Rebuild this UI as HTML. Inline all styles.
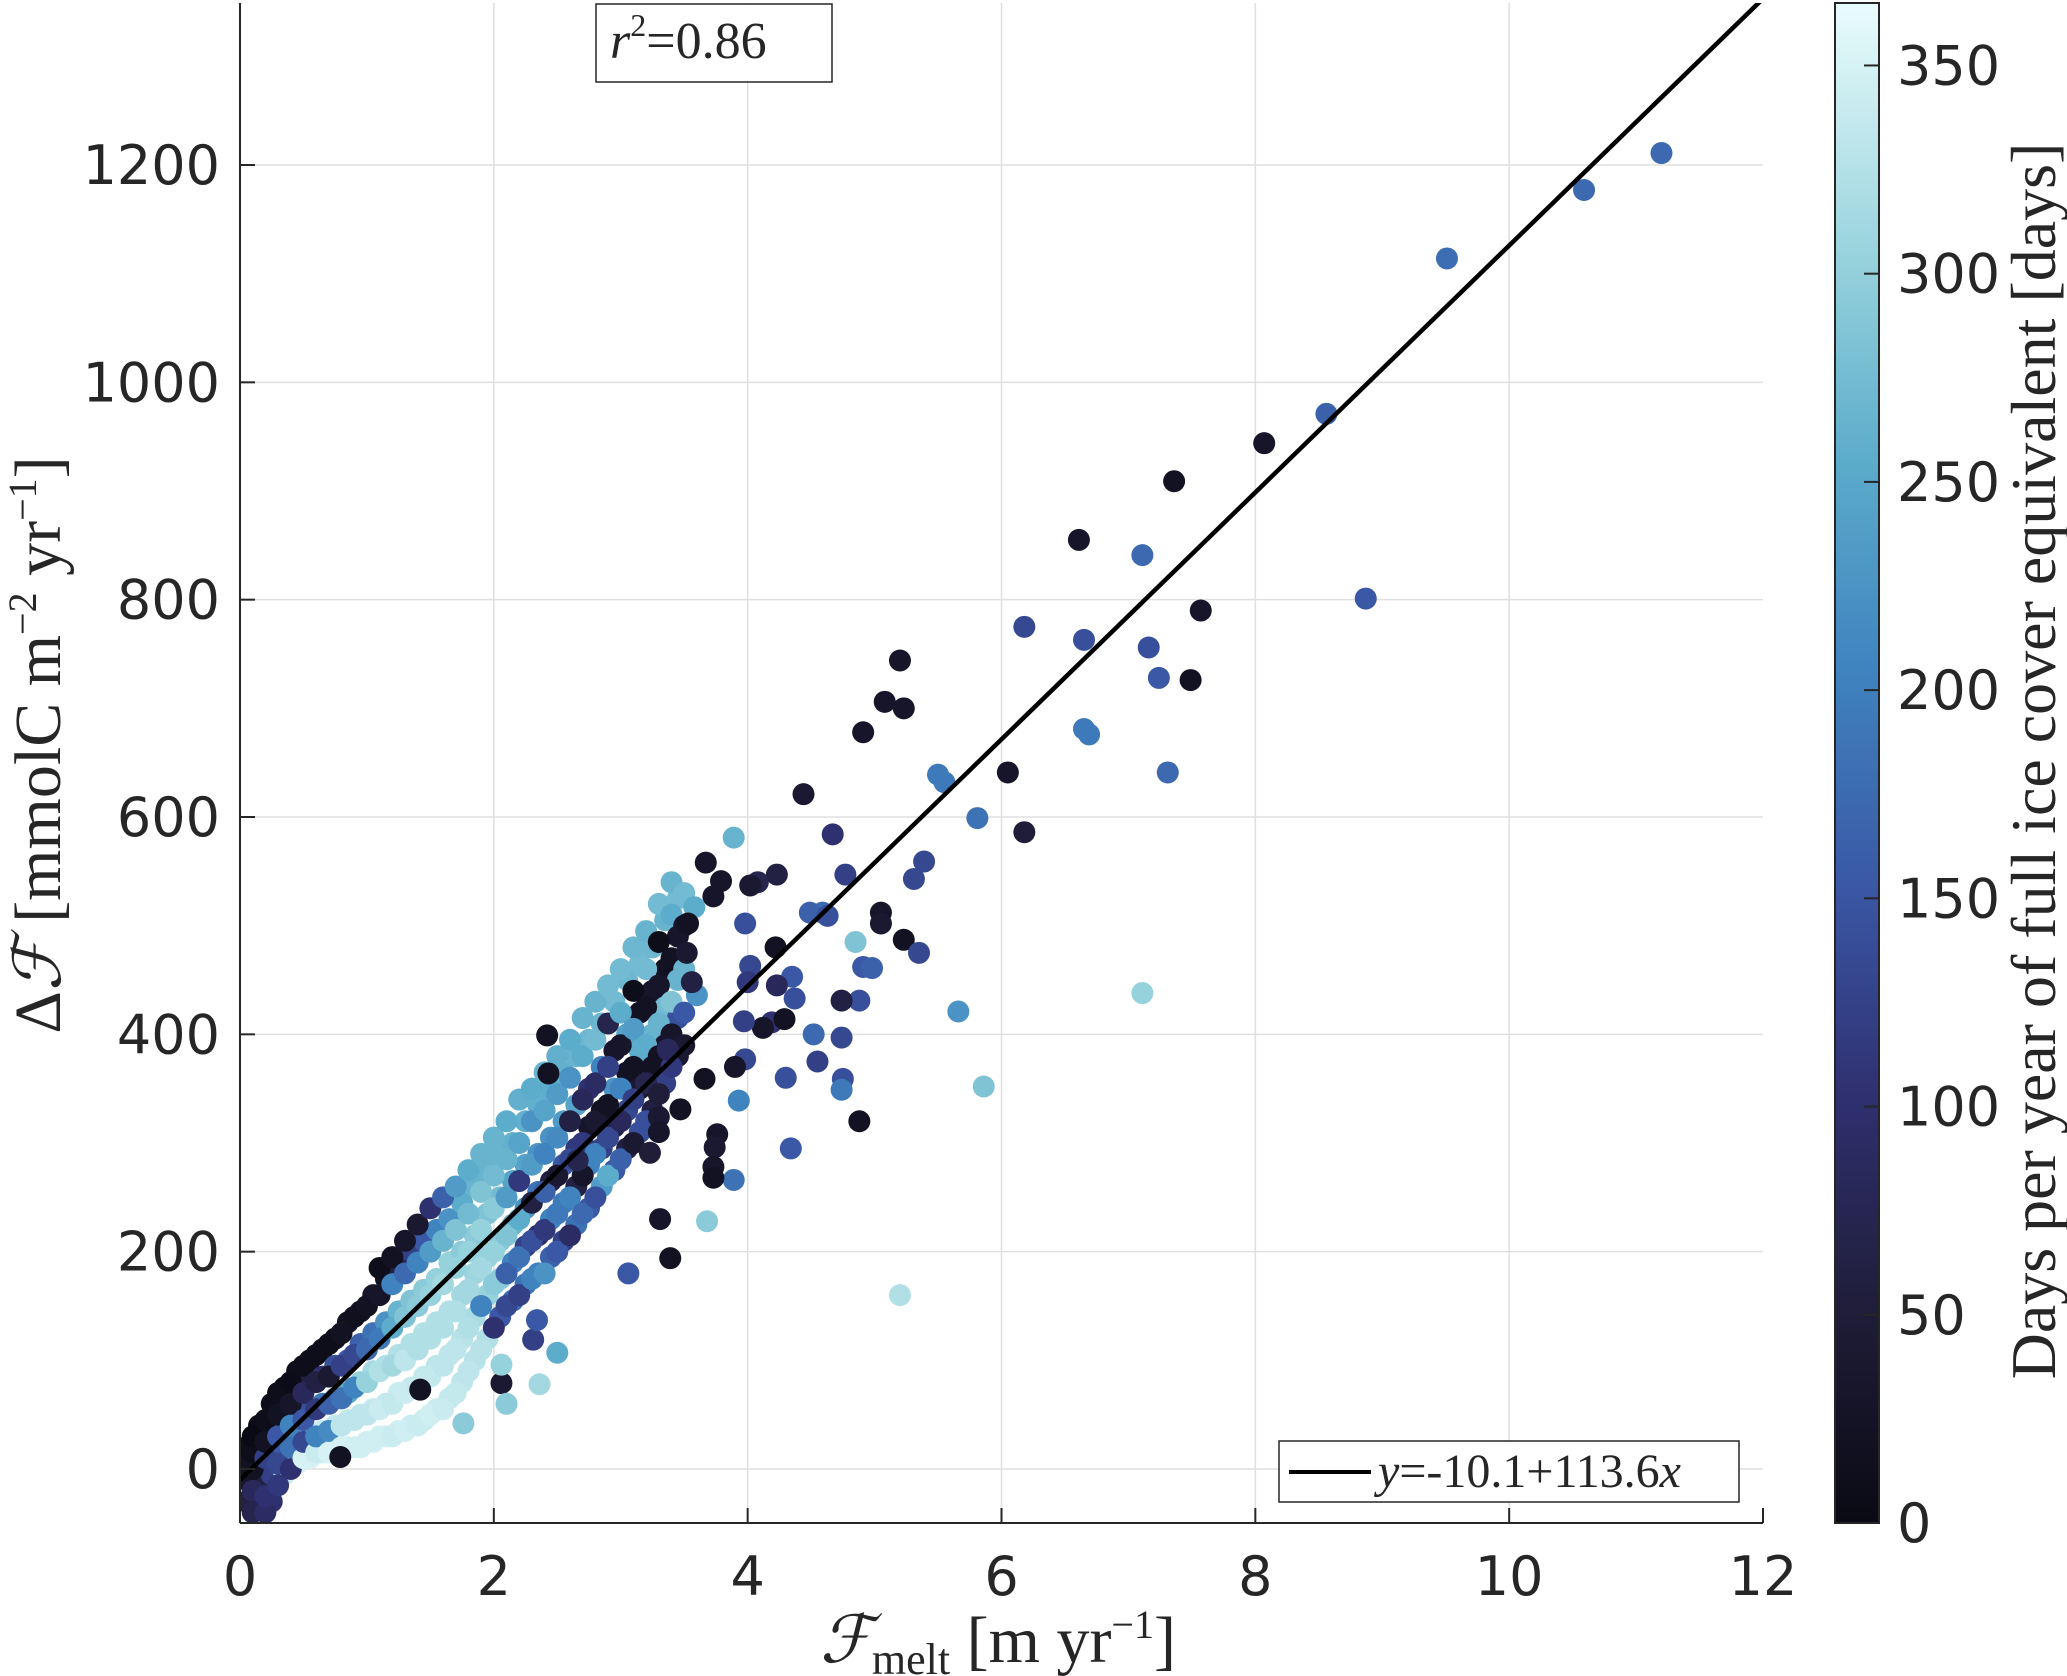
<!DOCTYPE html>
<html><head><meta charset="utf-8">
<style>
html,body{margin:0;padding:0;background:#fff;}
svg{display:block;}
.tick{font-family:"DejaVu Sans","Liberation Sans",sans-serif;font-size:54px;fill:#262626;}
.serif{font-family:"Liberation Serif","DejaVu Serif",serif;fill:#262626;}
</style></head>
<body>
<svg id="chart" width="2067" height="1676" viewBox="0 0 2067 1676" xmlns="http://www.w3.org/2000/svg">
<defs>
<linearGradient id="cbgrad" x1="0" y1="1" x2="0" y2="0">
<stop offset="0" stop-color="#0a0a14"/>
<stop offset="0.14" stop-color="#1f1d38"/>
<stop offset="0.28" stop-color="#2f3070"/>
<stop offset="0.42" stop-color="#3a58a6"/>
<stop offset="0.56" stop-color="#3f83bf"/>
<stop offset="0.7" stop-color="#5caccb"/>
<stop offset="0.83" stop-color="#96d2dc"/>
<stop offset="1" stop-color="#eafcfc"/>
</linearGradient>
<clipPath id="plotclip"><rect x="240" y="3" width="1523" height="1520"/></clipPath>
</defs>
<g id="grid"></g>
<g id="points" clip-path="url(#plotclip)"></g>
<g id="fit" clip-path="url(#plotclip)"></g>
<g id="axes"></g>
<g id="cbar"></g>
<g>
<rect x="596" y="4" width="236" height="78" fill="#fff" stroke="#262626" stroke-width="1.5"/>
<text class="serif" x="610" y="58" font-size="52"><tspan font-style="italic">r</tspan><tspan font-size="32" dy="-22">2</tspan><tspan dy="22">=0.86</tspan></text>
</g>
<g>
<rect x="1279" y="1441" width="460" height="61" fill="#fff" stroke="#262626" stroke-width="1.5"/>
<line x1="1289" y1="1472" x2="1371" y2="1472" stroke="#000" stroke-width="4"/>
<text class="serif" x="1378" y="1487" font-size="48"><tspan font-style="italic">y</tspan>=-10.1+113.6<tspan font-style="italic">x</tspan></text>
</g>
<text class="serif" font-size="66" transform="translate(60,745) rotate(-90)" text-anchor="middle">Δ<tspan font-style="italic">ℱ</tspan> [mmolC m<tspan font-size="40" dy="-24">−2</tspan><tspan dy="24"> yr</tspan><tspan font-size="40" dy="-24">−1</tspan><tspan dy="24">]</tspan></text>
<text class="serif" font-size="66" x="998" y="1662" text-anchor="middle"><tspan font-style="italic">ℱ</tspan><tspan font-size="44" dy="12">melt</tspan><tspan dy="-12"> [m yr</tspan><tspan font-size="40" dy="-24">−1</tspan><tspan dy="24">]</tspan></text>
<text class="serif" font-size="64" transform="translate(2055,761) rotate(-90)" text-anchor="middle">Days per year of full ice cover equivalent [days]</text>
</svg>
<script>
const xTicks = [0,2,4,6,8,10,12];
const yTicks = [0,200,400,600,800,1000,1200];
const cTicks = [0,50,100,150,200,250,300,350];
const fitIntercept = -10.1;
const fitSlope = 113.6;
const meltX = [
0.15,0.15,0.15,0.15,0.15, 0.25,0.25,0.25,0.25,0.25, 0.35,0.35,0.35,0.35,0.35, 0.45,0.45,0.45,0.45,0.45,
0.55,0.55,0.55,0.55,0.55, 0.65,0.65,0.65,0.65,0.65, 0.75,0.75,0.75,0.75,0.75, 0.85,0.85,0.85,0.85,0.85,
0.95,0.95,0.95,0.95,0.95, 1.05,1.05,1.05,1.05,1.05, 1.15,1.15,1.15,1.15,1.15, 1.25,1.25,1.25,1.25,1.25,
1.35,1.35,1.35,1.35,1.35, 1.45,1.45,1.45,1.45,1.45, 1.55,1.55,1.55,1.55,1.55, 1.65,1.65,1.65,1.65,1.65,
1.75,1.75,1.75,1.75,1.75, 1.85,1.85,1.85,1.85,1.85, 1.95,1.95,1.95,1.95,1.95, 2.05,2.05,2.05,2.05,2.05,
2.15,2.15,2.15,2.15,2.15, 2.25,2.25,2.25,2.25,2.25, 2.35,2.35,2.35,2.35,2.35, 2.45,2.45,2.45,2.45,2.45,
2.55,2.55,2.55,2.55,2.55, 2.65,2.65,2.65,2.65,2.65, 2.75,2.75,2.75,2.75,2.75, 2.85,2.85,2.85,2.85,2.85,
2.95,2.95,2.95,2.95,2.95, 3.05,3.05,3.05,3.05,3.05, 3.15,3.15,3.15,3.15,3.15, 3.25,3.25,3.25,3.25,3.25,
3.35,3.35,3.35,3.35,3.35, 3.45,3.45,3.45,3.45,3.45,
0.05,0.05,0.05,0.05,
0.1,0.1,0.1,0.1,0.1,
0.2,0.2,0.2,0.2,0.2,
0.3,0.3,0.3,0.3,0.3,
0.4,0.4,0.4,0.4,0.4,
0.5,0.5,0.5,0.5,0.5,
0.6,0.6,0.6,0.6,0.6,
0.7,0.7,0.7,0.7,0.7,
0.8,0.8,0.8,0.8,0.8,
0.9,0.9,0.9,0.9,0.9,
1.0,1.0,1.0,1.0,1.0,
1.1,1.1,1.1,1.1,1.1,1.1,
1.2,1.2,1.2,1.2,1.2,1.2,
1.3,1.3,1.3,1.3,1.3,1.3,
1.4,1.4,1.4,1.4,1.4,1.4,
1.5,1.5,1.5,1.5,1.5,1.5,
1.6,1.6,1.6,1.6,1.6,1.6,
1.7,1.7,1.7,1.7,1.7,1.7,
1.8,1.8,1.8,1.8,1.8,1.8,
1.9,1.9,1.9,1.9,1.9,1.9,
2.0,2.0,2.0,2.0,2.0,2.0,
2.1,2.1,2.1,2.1,2.1,2.1,
2.2,2.2,2.2,2.2,2.2,2.2,
2.3,2.3,2.3,2.3,2.3,2.3,
2.4,2.4,2.4,2.4,2.4,2.4,
2.5,2.5,2.5,2.5,2.5,2.5,
2.6,2.6,2.6,2.6,2.6,2.6,
2.7,2.7,2.7,2.7,2.7,2.7,
2.8,2.8,2.8,2.8,2.8,2.8,
2.9,2.9,2.9,2.9,2.9,2.9,
3.0,3.0,3.0,3.0,3.0,3.0,
3.1,3.1,3.1,3.1,3.1,3.1,
3.2,3.2,3.2,3.2,3.2,3.2,
3.3,3.3,3.3,3.3,3.3,3.3,
3.4,3.4,3.4,3.4,3.4,3.4,
3.5,3.5,3.5,3.5,3.5,
11.2,10.59,9.51,8.56,8.87,8.07,7.36,7.57,7.49,7.11,7.16,7.24,7.31,7.11,6.61,6.65,6.18,6.65,6.69,6.05,6.18,5.81,5.5,5.55,5.66,5.86,5.2,5.2,5.23,5.08,4.91,
4.44,4.67,4.77,5.23,5.05,5.05,5.35,5.31,5.39,4.91,4.98,4.85,4.88,4.88,4.59,4.49,4.63,4.74,4.74,4.75,4.74,4.55,4.52,4.37,4.35,4.34,4.3,
4.22,4.23,4.08,4.02,4.23,4.19,4.29,4.12,4.02,3.98,4.0,3.97,3.98,3.9,3.93,3.89,3.89,3.79,3.67,3.73,3.76,3.74,3.73,3.73,3.66,3.68,3.6,3.58,3.53,3.52,3.56,
3.47,3.39,3.37,3.31,3.3,3.3,3.23,3.06,2.66,2.42,2.43,2.5,2.06,2.1,2.06,1.42,0.79,1.76,2.36,2.31,2.34
];
const deltaF = [
-35,-10,10,25,40, -30,-5,20,40,60, -5,15,35,55,75, 5,25,45,70,90,
10,30,55,80,100, 15,35,60,85,110, 15,40,65,95,120, 20,45,70,100,135,
20,50,80,115,145, 25,55,90,125,160, 30,60,95,135,175, 35,70,105,145,185,
40,75,115,155,200, 45,85,125,165,210, 55,95,135,175,220, 65,105,145,190,230,
80,120,160,200,245, 100,140,180,215,260, 120,160,195,235,275, 140,175,210,250,290,
155,190,225,265,300, 170,205,240,280,320, 180,215,255,290,335, 195,230,265,305,350,
210,245,280,320,365, 225,260,295,335,380, 240,280,315,350,395, 260,295,330,370,410,
275,315,350,385,430, 295,330,365,400,450, 310,350,385,420,465, 330,370,400,440,480,
355,390,425,460,505, 380,415,450,490,525,
-30,-10,5,20,
-40,-20,0,15,30,
-40,-25,10,25,45,
-15,5,30,50,70,
0,20,40,60,80,
10,25,45,70,95,
15,30,55,80,105,
15,35,60,85,115,
20,40,65,95,125,
20,45,75,105,140,
25,50,80,110,150,
30,55,90,120,160,185,
30,60,95,130,170,195,
35,70,100,140,180,210,
40,75,110,150,190,225,
50,85,120,160,200,240,
55,95,130,170,210,250,
70,110,145,185,220,260,
90,130,165,200,235,275,
110,150,185,220,255,290,
130,170,200,240,270,305,
150,180,215,250,285,320,
160,195,230,265,300,340,
175,210,245,280,320,350,
180,220,255,290,330,365,
200,235,270,305,345,380,
215,250,285,320,360,395,
235,270,300,340,380,415,
250,290,320,355,395,430,
270,305,335,370,410,445,
285,320,350,390,420,460,
300,340,370,405,440,480,
320,355,390,425,460,495,
345,380,410,445,485,520,
370,400,430,470,510,540,
390,420,460,500,530,
1211,1177,1114,971,801,944,909,790,726,841,756,728,641,438,855,763,775,681,676,641,586,599,639,632,421,352,160,744,700,706,678,
621,584,547,487,512,502,475,543,559,462,461,485,431,320,512,512,509,431,397,359,349,375,400,433,453,295,360,
480,547,540,537,445,411,414,406,463,502,448,412,377,370,339,266,581,541,558,527,308,296,278,268,359,228,436,517,502,475,448,
331,194,386,230,324,310,291,180,284,399,364,107,79,60,96,73,11,42,78,119,137
];
const iceDays = [
80,60,30,10,5, 100,120,150,20,10, 340,150,190,30,5, 350,200,150,60,10,
350,330,140,60,10, 350,340,190,100,10, 350,335,200,140,15, 345,335,250,150,20,
345,330,300,160,20, 345,335,310,180,30, 345,335,320,220,20, 345,340,320,260,60,
340,335,320,280,120, 340,335,320,290,150, 340,330,320,300,200, 335,330,320,300,220,
330,325,310,290,250, 325,315,305,290,260, 320,300,300,280,260, 150,290,290,270,260,
170,200,260,240,255, 180,120,220,240,255, 200,90,180,220,255, 160,200,60,220,250,
120,190,150,230,255, 180,60,110,240,260, 150,200,30,100,265, 230,120,20,200,265,
150,60,220,30,270, 60,130,20,240,265, 140,40,250,20,270, 60,20,260,30,265,
120,30,270,20,260, 40,140,260,30,270,
60,30,20,10,
70,80,20,10,0,
90,100,120,20,10,
110,130,150,20,10,
100,180,200,30,5,
350,130,150,80,10,
340,200,110,60,10,
350,210,160,40,10,
350,330,180,120,20,
345,330,200,130,15,
345,330,300,170,20,
345,340,320,190,30,10,
340,335,310,250,200,20,
345,340,330,280,170,30,
340,335,320,290,200,40,
345,335,320,300,230,100,
340,330,320,310,260,160,
335,330,320,300,280,230,
330,320,310,300,270,250,
325,200,310,300,280,260,
100,290,300,290,270,260,
130,160,280,230,260,250,
120,180,250,110,240,255,
200,140,60,230,220,250,
220,110,160,200,240,260,
150,190,40,210,230,255,
90,200,130,60,220,250,
170,30,110,80,250,260,
140,200,40,90,270,260,
250,130,20,120,70,270,
160,80,200,30,250,270,
40,120,20,230,10,265,
140,70,250,20,270,260,
50,20,260,30,10,270,
110,30,280,20,250,260,
40,150,260,30,270,
170,170,175,160,150,30,20,30,20,170,140,150,170,300,30,140,130,190,190,30,50,180,190,190,220,280,320,30,30,30,30,
40,100,120,20,30,40,130,130,130,150,160,280,140,20,170,160,140,60,130,140,190,120,170,140,150,150,140,
20,60,70,40,80,100,20,30,130,140,110,120,130,30,200,180,260,30,30,30,30,40,30,20,20,290,220,250,20,40,60,
20,20,80,30,40,30,50,150,70,20,20,250,40,290,300,20,20,290,310,120,150
];

const X0 = 240, X1 = 1763, Y0px = 1469, pxPerY = 1304/1200;
const CB_X = 1835, CB_W = 44, CB_TOP = 3, CB_BOT = 1523, CB_MAX = 365;
function sx(v){ return X0 + v*(X1-X0)/12; }
function sy(v){ return Y0px - v*pxPerY; }
function cy(v){ return CB_BOT - v*(CB_BOT-CB_TOP)/CB_MAX; }
const NS = 'http://www.w3.org/2000/svg';
function mk(tag, attrs){ const e = document.createElementNS(NS, tag); for (const k in attrs) e.setAttribute(k, attrs[k]); return e; }

const cmStops = [[0,[10,10,20]],[50,[31,29,56]],[100,[47,48,112]],[150,[58,88,166]],[200,[63,131,191]],[250,[92,172,203]],[300,[150,210,220]],[365,[234,252,252]]];
function cmap(d){
  d = Math.max(0, Math.min(365, d));
  for (let i=0;i<cmStops.length-1;i++){
    const a=cmStops[i], b=cmStops[i+1];
    if (d<=b[0]){ const t=(d-a[0])/(b[0]-a[0]);
      const c=a[1].map((v,j)=>Math.round(v+(b[1][j]-v)*t));
      return 'rgb('+c.join(',')+')'; }
  }
  return 'rgb(234,252,252)';
}

const grid = document.getElementById('grid');
xTicks.forEach(t => { if (t>0 && t<12){ const l = mk('line',{x1:sx(t),x2:sx(t),y1:3,y2:1523,stroke:'#dfdfdf','stroke-width':1.5});
  
  
  grid.appendChild(l);} });
yTicks.forEach(t => { const l = mk('line',{x1:240,x2:1763,y1:sy(t),y2:sy(t),stroke:'#dfdfdf','stroke-width':1.5});
  
  
  grid.appendChild(l); });

const pts = document.getElementById('points');
for (let i=0;i<meltX.length;i++){
  const c = mk('circle',{cx:sx(meltX[i]),cy:sy(deltaF[i]),r:11,fill:cmap(iceDays[i])});
  
  
  pts.appendChild(c);
}

const fit = document.getElementById('fit');
const fl = mk('line',{x1:sx(0),y1:sy(fitIntercept),x2:sx(12),y2:sy(fitIntercept+fitSlope*12),stroke:'#000','stroke-width':4.5});


fit.appendChild(fl);

const axes = document.getElementById('axes');
axes.appendChild(mk('line',{x1:240,y1:1523,x2:1763,y2:1523,stroke:'#262626','stroke-width':2}));
axes.appendChild(mk('line',{x1:240,y1:3,x2:240,y2:1523,stroke:'#262626','stroke-width':2}));
xTicks.forEach(t => {
  axes.appendChild(mk('line',{x1:sx(t),x2:sx(t),y1:1523,y2:1508,stroke:'#262626','stroke-width':2}));
  const tx = mk('text',{x:sx(t),y:1595,'text-anchor':'middle',class:'tick'});
  tx.textContent = t;
  
  
  axes.appendChild(tx);
});
yTicks.forEach(t => {
  axes.appendChild(mk('line',{x1:240,x2:255,y1:sy(t),y2:sy(t),stroke:'#262626','stroke-width':2}));
  const tx = mk('text',{x:220,y:sy(t)+19,'text-anchor':'end',class:'tick'});
  tx.textContent = t;
  
  
  axes.appendChild(tx);
});

const cb = document.getElementById('cbar');
cb.appendChild(mk('rect',{x:CB_X,y:CB_TOP,width:CB_W,height:CB_BOT-CB_TOP,fill:'url(#cbgrad)',stroke:'#262626','stroke-width':2}));
cTicks.forEach(t => {
  cb.appendChild(mk('line',{x1:CB_X+CB_W-15,x2:CB_X+CB_W,y1:cy(t),y2:cy(t),stroke:'#262626','stroke-width':2}));
  const tx = mk('text',{x:1897,y:cy(t)+19,class:'tick'});
  tx.textContent = t;
  
  
  cb.appendChild(tx);
});
</script>
</body></html>
